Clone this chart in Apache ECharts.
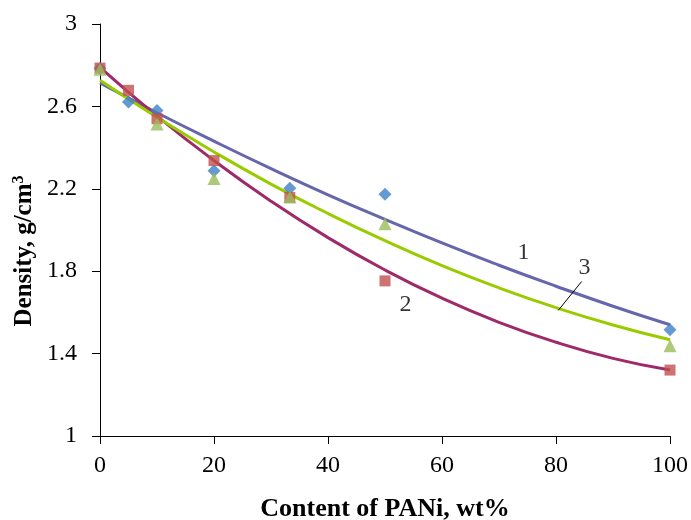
<!DOCTYPE html>
<html>
<head>
<meta charset="utf-8">
<script src="https://cdn.jsdelivr.net/npm/echarts@6/dist/echarts.min.js"></script>
<style>
  html, body { margin: 0; padding: 0; background: #fff; }
  #chart { width: 691px; height: 520px; }
</style>
</head>
<body>
<div id="chart"></div>
<script>
// PANi content (wt%) and measured densities (g/cm3)
const contentPts1 = [0, 5, 10, 20, 33.3, 50, 100];
const density1 = [2.785, 2.621, 2.58, 2.288, 2.203, 2.174, 1.516];

const contentPts2 = [0, 5, 10, 20, 33.3, 50, 100];
const density2 = [2.786, 2.678, 2.54, 2.337, 2.158, 1.753, 1.32];

const contentPts3 = [0, 10, 20, 33.3, 50, 100];
const density3 = [2.78, 2.515, 2.25, 2.16, 2.03, 1.438];

// Trend curves
const curveX = [0, 10, 20, 30, 40, 50, 60, 70, 80, 90, 100];
const curve1 = [2.714, 2.569, 2.431, 2.298, 2.171, 2.052, 1.937, 1.829, 1.727, 1.630, 1.54];
const curve2 = [2.79, 2.553, 2.337, 2.140, 1.963, 1.806, 1.669, 1.552, 1.455, 1.377, 1.32];
const curve3 = [2.727, 2.547, 2.379, 2.223, 2.080, 1.948, 1.827, 1.719, 1.623, 1.539, 1.467];

// Curve number labels: [x, y, text]
const curveLabels = [
  [74.3, 1.888, '1'],
  [53.6, 1.639, '2'],
  [85.0, 1.815, '3']
];
// Leader line for label 3
const leaderX = [80.4, 84.5];
const leaderY = [1.61, 1.75];

const xTicks = { min: 0, max: 100, interval: 20 };
const yTicks = { min: 1, max: 3, interval: 0.4 };

const zip = (xs, ys) => xs.map((x, i) => [x, ys[i]]);
const serif = '"Liberation Serif", "Times New Roman", serif';

const chart = echarts.init(document.getElementById('chart'), null, { renderer: 'canvas' });

const trendSeries = (name, ys, color) => ({
  name, type: 'line', data: zip(curveX, ys), smooth: true, symbol: 'none',
  lineStyle: { color, width: 3 }, z: 2, silent: true
});

chart.setOption({
  animation: false,
  backgroundColor: '#fff',
  grid: { left: 100, right: 21, top: 24, bottom: 84, outerBoundsMode: 'none', containLabel: false },
  // Rotated y-axis title with superscript
  graphic: [{
    type: 'text',
    x: 25, y: 251,
    rotation: Math.PI / 2,
    style: {
      text: '{a|Density, g/cm}{s|3}',
      align: 'center', verticalAlign: 'middle',
      rich: {
        a: { fontFamily: serif, fontSize: 25, fontWeight: 'bold', fill: '#000' },
        s: { fontFamily: serif, fontSize: 16, fontWeight: 'bold', fill: '#000', verticalAlign: 'top', padding: [0, 0, 12, 0] }
      }
    }
  }],
  xAxis: {
    type: 'value', min: xTicks.min, max: xTicks.max, interval: xTicks.interval,
    name: 'Content of PANi, wt%', nameLocation: 'middle', nameGap: 60,
    nameTextStyle: { fontFamily: serif, fontSize: 26, fontWeight: 'bold', color: '#000' },
    axisLine: { lineStyle: { color: '#000', width: 1 } },
    axisTick: { inside: false, length: 8, lineStyle: { color: '#000' } },
    axisLabel: { fontFamily: serif, fontSize: 24, color: '#000', margin: 18 },
    splitLine: { show: false }
  },
  yAxis: {
    type: 'value', min: yTicks.min, max: yTicks.max, interval: yTicks.interval,
    axisLine: { show: true, lineStyle: { color: '#000', width: 1 } },
    axisTick: { show: true, inside: false, length: 8, lineStyle: { color: '#000' } },
    axisLabel: {
      fontFamily: serif, fontSize: 24, color: '#000', margin: 23,
      formatter: v => String(Math.round(v * 10) / 10)
    },
    splitLine: { show: false }
  },
  series: [
    {
      name: 'Density 1', type: 'scatter', data: zip(contentPts1, density1),
      symbol: 'diamond', symbolSize: 13, itemStyle: { color: '#3F7FC6' }, z: 3
    },
    {
      name: 'Density 2', type: 'scatter', data: zip(contentPts2, density2),
      symbol: 'rect', symbolSize: 11, itemStyle: { color: '#C0504D' }, z: 3
    },
    {
      name: 'Density 3', type: 'scatter', data: zip(contentPts3, density3),
      symbol: 'triangle', symbolSize: 13, itemStyle: { color: '#9BBB59' }, z: 3
    },
    trendSeries('Trend 1', curve1, '#6666AA'),
    trendSeries('Trend 2', curve2, '#9E2A6A'),
    trendSeries('Trend 3', curve3, '#99CC00'),
    {
      name: 'Leader 3', type: 'line', data: zip(leaderX, leaderY), symbol: 'none',
      lineStyle: { color: '#000', width: 1 }, z: 4, silent: true
    },
    {
      name: 'Curve labels', type: 'scatter', symbolSize: 0, z: 5, silent: true,
      data: curveLabels.map(d => ({ value: [d[0], d[1]], label: { formatter: d[2] } })),
      label: {
        show: true, position: 'inside', fontFamily: serif, fontSize: 24, color: '#000'
      }
    }
  ]
});
</script>
</body>
</html>
